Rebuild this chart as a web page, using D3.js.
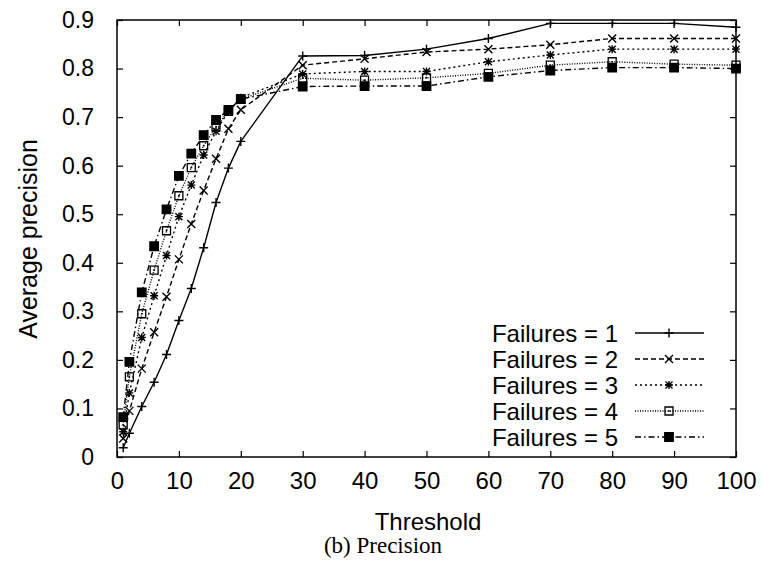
<!DOCTYPE html>
<html lang="en">
<head>
<meta charset="utf-8">
<title>Precision</title>
<script src="https://d3js.org/d3.v7.min.js"></script>
<style>
  body { margin: 0; background: #fff; }
  svg { display: block; }
  text { font-family: "Liberation Sans", Arial, sans-serif; fill: #000; }
</style>
</head>
<body>
<svg width="762" height="565"></svg>
<script>
// data
const thresholds = [1, 2, 4, 6, 8, 10, 12, 14, 16, 18, 20, 30, 40, 50, 60, 70, 80, 90, 100];
const fail1 = [0.019, 0.049, 0.104, 0.154, 0.211, 0.281, 0.347, 0.431, 0.524, 0.595, 0.650, 0.826, 0.827, 0.840, 0.862, 0.893, 0.893, 0.893, 0.885];
const fail2 = [0.038, 0.095, 0.182, 0.257, 0.330, 0.407, 0.480, 0.549, 0.614, 0.676, 0.715, 0.807, 0.820, 0.834, 0.840, 0.849, 0.862, 0.862, 0.862];
const fail3 = [0.052, 0.132, 0.246, 0.332, 0.415, 0.495, 0.560, 0.622, 0.671, 0.712, 0.740, 0.789, 0.794, 0.794, 0.814, 0.828, 0.840, 0.840, 0.840];
const fail4 = [0.066, 0.165, 0.295, 0.385, 0.466, 0.538, 0.596, 0.641, 0.680, 0.712, 0.737, 0.780, 0.776, 0.781, 0.790, 0.807, 0.814, 0.809, 0.807];
const fail5 = [0.082, 0.196, 0.339, 0.434, 0.510, 0.579, 0.625, 0.663, 0.694, 0.715, 0.737, 0.763, 0.764, 0.764, 0.783, 0.796, 0.802, 0.802, 0.800];
const seriesNames = ["Failures = 1", "Failures = 2", "Failures = 3", "Failures = 4", "Failures = 5"];
const xTicks = [0, 10, 20, 30, 40, 50, 60, 70, 80, 90, 100];
const yTicks = [0, 0.1, 0.2, 0.3, 0.4, 0.5, 0.6, 0.7, 0.8, 0.9];

const svg = d3.select("svg");
const plotL = 117, plotR = 736, plotT = 20, plotB = 457;

const x = d3.scaleLinear().domain([0, 100]).range([plotL, plotR]);
const y = d3.scaleLinear().domain([0, 0.9]).range([plotB, plotT]);

// line styles and point shapes, gnuplot-like
const dashes = [null, "5,3", "2,3", "1,1.5", "6,3,1.5,3"];

function pointPath(kind) {
  const p = d3.path();
  if (kind === 0 || kind === 2) {
    const r = kind === 0 ? 4.5 : 4;
    p.moveTo(-r, 0); p.lineTo(r, 0);
    p.moveTo(0, -r); p.lineTo(0, r);
  }
  if (kind === 1 || kind === 2) {
    const r = kind === 1 ? 4 : 3.5;
    p.moveTo(-r, -r); p.lineTo(r, r);
    p.moveTo(-r, r); p.lineTo(r, -r);
  }
  if (kind === 3) p.rect(-4, -4, 8, 8);
  if (kind === 4) p.rect(-4.2, -4.2, 8.4, 8.4);
  return p.toString();
}

function drawPoint(g, kind, px, py) {
  const pt = g.append("g").attr("transform", `translate(${px},${py})`);
  pt.append("path")
    .attr("d", pointPath(kind))
    .attr("fill", kind === 4 ? "#000" : "none")
    .attr("stroke", "#000")
    .attr("stroke-width", kind === 3 ? 1.3 : 1.4);
  if (kind === 3) {
    pt.append("rect").attr("x", -0.8).attr("y", -0.8).attr("width", 1.6).attr("height", 1.6).attr("fill", "#000");
  }
}

// inward ticks on all sides
const tickLen = 6;
svg.append("g").attr("transform", `translate(0,${plotB})`)
  .call(d3.axisBottom(x).tickValues(xTicks).tickSize(-tickLen).tickPadding(15).tickFormat(d3.format("d")))
  .call(g => g.select(".domain").remove())
  .call(g => g.selectAll("text").attr("font-size", 24).attr("dy", "0.71em"));

svg.append("g").attr("transform", `translate(0,${plotT})`)
  .call(d3.axisTop(x).tickValues(xTicks).tickSize(-tickLen).tickFormat(""))
  .call(g => g.select(".domain").remove());

svg.append("g").attr("transform", `translate(${plotL},0)`)
  .call(d3.axisLeft(y).tickValues(yTicks).tickSize(-tickLen).tickPadding(23)
    .tickFormat(d => d === 0 ? "0" : d3.format(".1f")(d)))
  .call(g => g.select(".domain").remove())
  .call(g => g.selectAll("text").attr("font-size", 23));

svg.append("g").attr("transform", `translate(${plotR},0)`)
  .call(d3.axisRight(y).tickValues(yTicks).tickSize(-tickLen).tickFormat(""))
  .call(g => g.select(".domain").remove());

svg.selectAll(".tick line").attr("stroke", "#000").attr("stroke-width", 1.2);

// frame
svg.append("rect")
  .attr("x", plotL).attr("y", plotT)
  .attr("width", plotR - plotL).attr("height", plotB - plotT)
  .attr("fill", "none").attr("stroke", "#000").attr("stroke-width", 1.5);

// series
const allSeries = [fail1, fail2, fail3, fail4, fail5];
const line = d3.line().x(d => x(d[0])).y(d => y(d[1]));

allSeries.forEach((vals, k) => {
  const pts = thresholds.map((t, i) => [t, vals[i]]);
  const g = svg.append("g");
  g.append("path")
    .attr("d", line(pts))
    .attr("fill", "none")
    .attr("stroke", "#000")
    .attr("stroke-width", 1.4)
    .attr("stroke-dasharray", dashes[k]);
  pts.forEach(p => drawPoint(g, k, x(p[0]), y(p[1])));
});

// legend
const legendY0 = 333, legendStep = 26;
seriesNames.forEach((name, k) => {
  const ly = legendY0 + k * legendStep;
  svg.append("text")
    .attr("x", 618).attr("y", ly)
    .attr("dy", "0.36em")
    .attr("text-anchor", "end")
    .attr("font-size", 24)
    .text(name);
  svg.append("line")
    .attr("x1", 635).attr("x2", 704)
    .attr("y1", ly).attr("y2", ly)
    .attr("stroke", "#000").attr("stroke-width", 1.4)
    .attr("stroke-dasharray", dashes[k]);
  drawPoint(svg, k, 669, ly);
});

// axis titles
svg.append("text")
  .attr("x", 428).attr("y", 530)
  .attr("text-anchor", "middle")
  .attr("font-size", 24)
  .text("Threshold");

svg.append("text")
  .attr("transform", "translate(37,239) rotate(-90)")
  .attr("text-anchor", "middle")
  .attr("font-size", 25)
  .text("Average precision");

svg.append("text")
  .attr("x", 383).attr("y", 553)
  .attr("text-anchor", "middle")
  .attr("font-size", 23)
  .style("font-family", "'Liberation Serif', 'DejaVu Serif', serif")
  .text("(b) Precision");
</script>
</body>
</html>
